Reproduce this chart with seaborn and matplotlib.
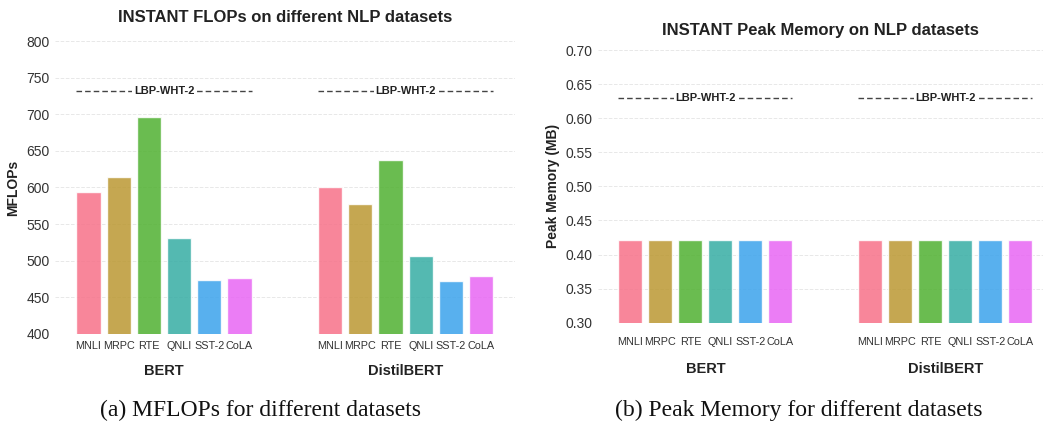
import matplotlib
matplotlib.use("Agg")
import matplotlib.pyplot as plt
import matplotlib.transforms as mtransforms
import seaborn as sns
import pandas as pd
import numpy as np

datasets = ["MNLI", "MRPC", "RTE", "QNLI", "SST-2", "CoLA"]
models = ["BERT", "DistilBERT"]
bert_flops = [594, 614, 696, 531, 474, 476]
distil_flops = [600, 577, 637, 506, 472, 479]
bert_mem = [0.421, 0.421, 0.421, 0.421, 0.421, 0.421]
distil_mem = [0.421, 0.421, 0.421, 0.421, 0.421, 0.421]
lbp_flops = [732, 732]
lbp_mem = [0.63, 0.63]
flops_ticks = [400, 450, 500, 550, 600, 650, 700, 750, 800]
mem_ticks = [0.30, 0.35, 0.40, 0.45, 0.50, 0.55, 0.60, 0.65, 0.70]

sns.set_theme(style="whitegrid")
plt.rcParams["font.family"] = ["Liberation Sans", "DejaVu Sans"]

GAP = 8  # slot offset between model groups


def build(vals_a, vals_b):
    rows = []
    for g, vals in enumerate([vals_a, vals_b]):
        for i, (d, v) in enumerate(zip(datasets, vals)):
            rows.append({"model": models[g], "dataset": d, "pos": i + g * GAP, "value": v})
    return pd.DataFrame(rows)


df_f = build(bert_flops, distil_flops)
df_m = build(bert_mem, distil_mem)
palette = sns.color_palette("husl", len(datasets))

fig = plt.figure(figsize=(10.43, 4.21), dpi=100)
ax1 = fig.add_axes([0.0527, 0.2067, 0.4411, 0.6959])
ax2 = fig.add_axes([0.5733, 0.2335, 0.4267, 0.6477])


def draw(ax, df, lbp, ylim, ticks, ylabel, title, xlim, tickpad, fmt, tpad, gy):
    sns.barplot(data=df, x="pos", y="value", hue="dataset", palette=palette,
                native_scale=True, dodge=False, legend=False, width=0.8,
                saturation=1, alpha=0.85, edgecolor="white", linewidth=1.0, ax=ax)
    ax.set_ylim(*ylim)
    ax.set_xlim(*xlim)
    ax.set_yticks(ticks)
    ax.set_yticklabels([fmt.format(t) for t in ticks], fontsize=10, color="#333333")
    ax.set_xticks(df["pos"].tolist())
    ax.set_xticklabels(df["dataset"].tolist(), fontsize=7.8, color="#333333")
    ax.tick_params(axis="x", pad=tickpad, length=0)
    ax.tick_params(axis="y", pad=4, length=0)
    ax.grid(axis="y", linestyle="--", color="#e8e8e8", linewidth=0.7)
    ax.grid(axis="x", visible=False)
    for s in ax.spines.values():
        s.set_visible(False)
    ax.set_xlabel("")
    ax.set_ylabel(ylabel, fontsize=10, fontweight="bold", color="#222222")
    ax.set_title(title, fontsize=12, fontweight="bold", color="#222222", pad=tpad)
    trans = mtransforms.blended_transform_factory(ax.transData, ax.transAxes)
    for g, m in enumerate(models):
        p = df[df["model"] == m]["pos"]
        left, right = p.min() - 0.4, p.max() + 0.4
        ax.hlines(lbp[g], left, right, colors="#444444", linestyles=(0, (4, 2.2)),
                  linewidth=1.0, zorder=3)
        ax.text((left + right) / 2, lbp[g], "LBP-WHT-2", ha="center", va="center",
                fontsize=8, fontweight="bold", color="#222222", zorder=4,
                bbox=dict(facecolor="white", edgecolor="none", pad=1.0))
        ax.text(p.mean(), gy, m, transform=trans,
                ha="center", va="center", fontsize=10.5, fontweight="bold",
                color="#222222")


draw(ax1, df_f, lbp_flops, (400, 800), flops_ticks, "MFLOPs",
     "INSTANT FLOPs on different NLP datasets", (-1.11, 14.12), 5, "{:.0f}", 14, -0.125)
draw(ax2, df_m, lbp_mem, (0.30, 0.70), mem_ticks, "Peak Memory (MB)",
     "INSTANT Peak Memory on NLP datasets", (-1.08, 13.75), 10, "{:.2f}", 11, -0.17)

fig.text(261 / 1043, 1 - 410 / 421, "(a) MFLOPs for different datasets",
         ha="center", va="center", fontsize=17, family="Liberation Serif", color="#111111")
fig.text(799 / 1043, 1 - 410 / 421, "(b) Peak Memory for different datasets",
         ha="center", va="center", fontsize=17, family="Liberation Serif", color="#111111")

fig.savefig("out.png", dpi=100)
